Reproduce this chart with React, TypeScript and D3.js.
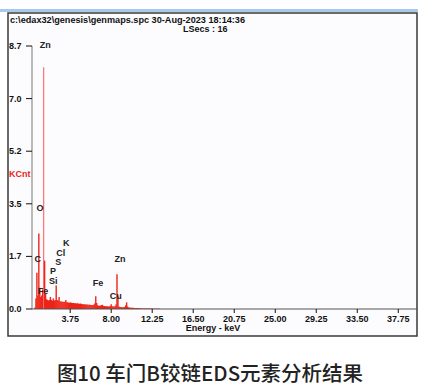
import React from "react";
import * as d3 from "d3";

const W = 427;
const H = 391;

const headerPath = "c:\\edax32\\genesis\\genmaps.spc  30-Aug-2023 18:14:36";
const headerSecs = "LSecs : 16";
const yTickValues = [0, 1.74, 3.48, 5.22, 6.96, 8.7];
const yTickLabels = ["0.0", "1.7", "3.5", "5.2", "7.0", "8.7"];
const xTickValues = [3.75, 8.0, 12.25, 16.5, 20.75, 25.0, 29.25, 33.5, 37.75];
const xTickLabels = ["3.75", "8.00", "12.25", "16.50", "20.75", "25.00", "29.25", "33.50", "37.75"];

// channel width 0.1 keV, first channel at 0.1 keV (KCnt)
const CHANNEL_KEV = 0.1;
const counts = [
  0.05, 0.35, 1.2, 0.45, 2.5, 0.7, 0.4, 0.45, 0.65, 8.0,
  1.6, 0.5, 0.32, 0.3, 0.28, 0.3, 0.4, 0.3, 0.27, 0.35,
  0.27, 0.3, 0.78, 0.3, 0.28, 0.4, 0.26, 0.25, 0.24, 0.24,
  0.23, 0.24, 0.3, 0.22, 0.22, 0.21, 0.21, 0.22, 0.2, 0.2,
  0.2, 0.19, 0.19, 0.18, 0.19, 0.18, 0.17, 0.18, 0.17, 0.16,
  0.16, 0.16, 0.15, 0.15, 0.15, 0.14, 0.14, 0.14, 0.13, 0.13,
  0.13, 0.14, 0.18, 0.42, 0.2, 0.12, 0.11, 0.11, 0.11, 0.13,
  0.14, 0.1, 0.1, 0.09, 0.09, 0.09, 0.08, 0.08, 0.1, 0.16,
  0.09, 0.08, 0.08, 0.09, 0.15, 1.15, 0.45, 0.08, 0.07, 0.07,
  0.06, 0.06, 0.06, 0.07, 0.12, 0.22, 0.08, 0.05, 0.05, 0.04,
  0.04, 0.04, 0.04, 0.03, 0.03, 0.03, 0.03, 0.025, 0.025, 0.025,
  0.02, 0.02, 0.02, 0.02, 0.02, 0.02, 0.02, 0.015, 0.015, 0.015,
  0.015, 0.015, 0.015, 0.01, 0.01, 0.01, 0.01, 0.01, 0.01, 0.01,
];

const elementNames = ["Zn", "O", "C", "K", "Cl", "S", "P", "Si", "Fe", "Fe", "Zn", "Cu"];
const elementLabelKeV = [0.6, 0.25, 0.05, 3.0, 2.3, 2.2, 1.65, 1.55, 0.4, 6.1, 8.35, 7.85];
const elementLabelKCnt = [8.64, 3.25, 1.55, 2.08, 1.75, 1.45, 1.16, 0.83, 0.5, 0.76, 1.55, 0.34];

const x = d3.scaleLinear().domain([0, 40]).range([34, 420]);
const y = d3.scaleLinear().domain([0, 8.7]).range([309, 46]);

const axisFont = "'Liberation Sans', Arial, sans-serif";
const FS = 9;

export default function App() {
  return (
    <svg width={W} height={H} style={{ display: "block", position: "absolute", left: 0, top: 0 }}>
      <rect x={0} y={0} width={W} height={H} fill="#ffffff" />
      <rect x={0} y={9} width={418} height={3} fill="#a9c9ea" />
      <rect x={8} y={13} width={409} height={323} fill="#fcfcfe" stroke="#3a3a3a" strokeWidth={1.5} />
      <text x={10} y={23} fontFamily={axisFont} fontSize={FS} fontWeight="bold" fill="#111" textLength={235} lengthAdjust="spacingAndGlyphs">{headerPath}</text>
      <text x={183} y={32} fontFamily={axisFont} fontSize={FS} fontWeight="bold" fill="#111">{headerSecs}</text>

      {/* y axis */}
      <line x1={32} x2={32} y1={y(8.7)} y2={y(0)} stroke="#777" strokeWidth={1} />
      {yTickValues.map((v, i) => (
        <g key={"yt" + i}>
          <line x1={26} x2={32} y1={y(v)} y2={y(v)} stroke="#111" strokeWidth={1} />
          <text x={9} y={y(v) + 3} fontFamily={axisFont} fontSize={FS} fontWeight="bold" fill="#111">{yTickLabels[i]}</text>
        </g>
      ))}
      <text x={9} y={177} fontFamily={axisFont} fontSize={FS} fontWeight="bold" fill="#e8261c">KCnt</text>

      {/* spectrum */}
      {counts.map((c, i) => {
        const e = (i + 1) * CHANNEL_KEV;
        const big = c > 5;
        return (
          <line
            key={"b" + i}
            x1={x(e)}
            x2={x(e)}
            y1={y(0)}
            y2={y(c)}
            stroke={big ? "#ff6e6e" : "#ee2418"}
            strokeWidth={big ? 1.2 : 1.4}
          />
        );
      })}

      {/* x axis */}
      <line x1={32} x2={417} y1={y(0)} y2={y(0)} stroke="#555" strokeWidth={1} />
      {xTickValues.map((v, i) => (
        <g key={"xt" + i}>
          <line x1={x(v)} x2={x(v)} y1={y(0)} y2={y(0) + 4} stroke="#111" strokeWidth={1} />
          <text x={x(v)} y={322} textAnchor="middle" fontFamily={axisFont} fontSize={FS} fontWeight="bold" fill="#111">{xTickLabels[i]}</text>
        </g>
      ))}
      <text x={213} y={331} textAnchor="middle" fontFamily={axisFont} fontSize={FS} fontWeight="bold" fill="#111">Energy - keV</text>

      {/* element labels */}
      {elementNames.map((n, i) => (
        <text key={"el" + i} x={x(elementLabelKeV[i])} y={y(elementLabelKCnt[i])} fontFamily={axisFont} fontSize={9} fontWeight="bold" fill="#222">{n}</text>
      ))}

      <text x={210} y={381} textAnchor="middle" fontFamily="'Noto Sans CJK SC', sans-serif" fontSize={20.5} fontWeight={500} fill="#222">图10 车门B铰链EDS元素分析结果</text>
    </svg>
  );
}
